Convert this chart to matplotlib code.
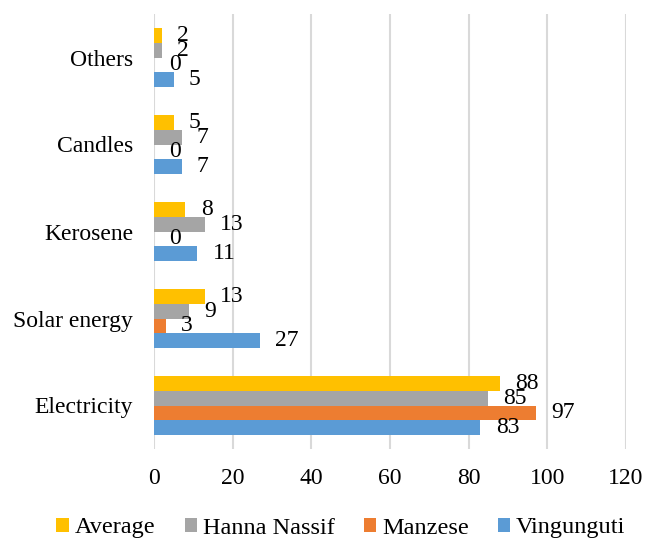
import numpy as np
import matplotlib
matplotlib.use("Agg")
import matplotlib.pyplot as plt
from matplotlib.patches import Patch

categories = ["Electricity", "Solar energy", "Kerosene", "Candles", "Others"]
vingunguti = [83, 27, 11, 7, 5]
manzese = [97, 3, 0, 0, 0]
hanna_nassif = [85, 9, 13, 7, 2]
average = [88, 13, 8, 5, 2]
x_ticks = [0, 20, 40, 60, 80, 100, 120]

series = [
    ("Vingunguti", vingunguti, "#5B9BD5"),
    ("Manzese", manzese, "#ED7D31"),
    ("Hanna Nassif", hanna_nassif, "#A5A5A5"),
    ("Average", average, "#FFC000"),
]

plt.rcParams["font.family"] = ["Liberation Serif", "DejaVu Serif"]
fs = 17

fig = plt.figure(figsize=(6.46, 5.40), dpi=100)
ax = fig.add_axes([154 / 646, 1 - 449 / 540, (626 - 154) / 646, (449 - 14) / 540])

y = np.arange(len(categories))
h = 0.172
for i, (name, vals, col) in enumerate(series):
    pos = y + (i - 1.5) * h
    ax.barh(pos, vals, height=h, color=col, zorder=3)
    for p, v in zip(pos, vals):
        ax.annotate(str(v), xy=(v, p), xytext=(11, 0), textcoords="offset points",
                    ha="left", va="center", fontsize=fs, color="black", zorder=4)

ax.set_xlim(0, 120)
ax.set_ylim(-0.5, len(categories) - 0.5)
ax.set_xticks(x_ticks)
ax.set_xticklabels([str(t) for t in x_ticks])
ax.set_yticks(y)
ax.set_yticklabels(categories)
ax.tick_params(axis="both", length=0, labelsize=fs, colors="black")
ax.tick_params(axis="x", pad=14)
ax.tick_params(axis="y", pad=15)
ax.grid(axis="x", color="#D9D9D9", linewidth=1.5, zorder=0)
for s in ax.spines.values():
    s.set_visible(False)

handles = [Patch(facecolor=c, edgecolor="none") for _, _, c in series[::-1]]
labels = [n for n, _, _ in series[::-1]]
fig.legend(handles, labels, loc="center", bbox_to_anchor=(341 / 646, 1 - 528 / 540), ncol=4,
           frameon=False, fontsize=17.5, handlelength=0.5, handleheight=0.5,
           handletextpad=0.25, columnspacing=1.2, borderpad=0.2)

fig.savefig("out.png", dpi=100)
